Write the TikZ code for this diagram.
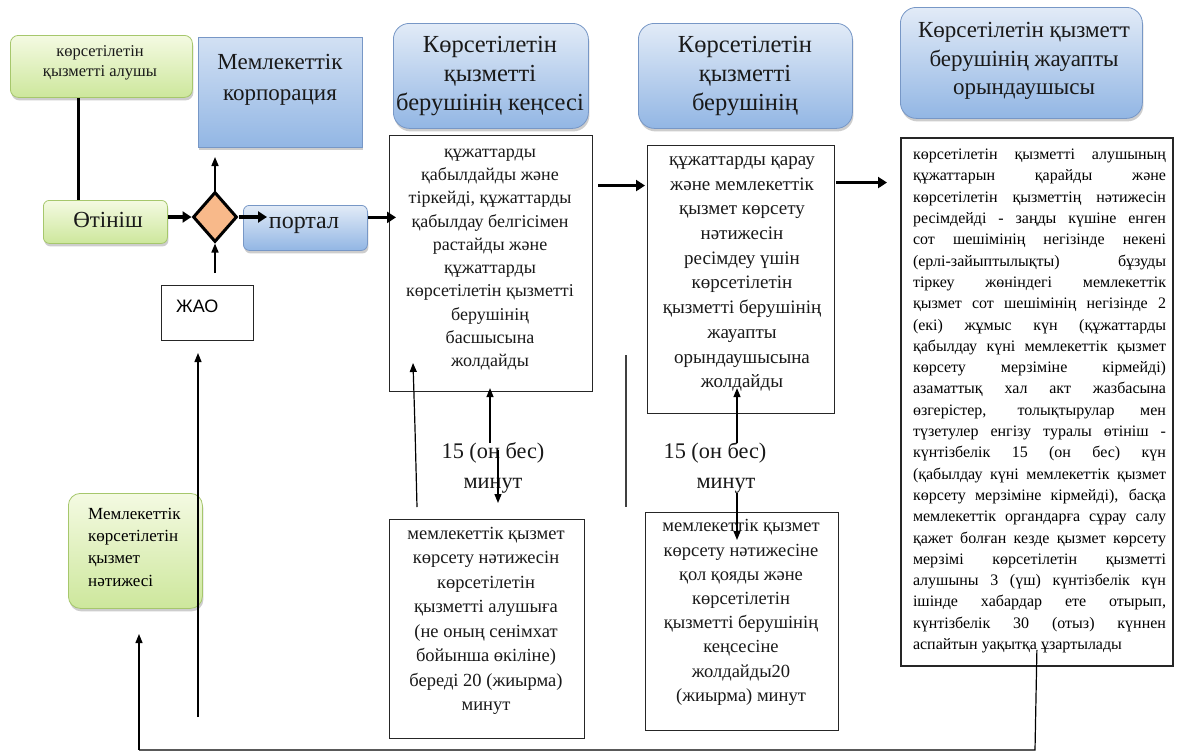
\documentclass[tikz,border=0pt]{standalone}
\usepackage{fontspec}
\setmainfont{Liberation Serif}
\newfontfamily\sansf{Liberation Sans}
\usetikzlibrary{arrows.meta,shapes.geometric,shadows}

\definecolor{grntop}{HTML}{F4FAE2}
\definecolor{grnbot}{HTML}{CDE79C}
\definecolor{grnline}{HTML}{A6C76C}
\definecolor{blutop}{HTML}{E2EBF7}
\definecolor{blubot}{HTML}{92B6E4}
\definecolor{bluline}{HTML}{7797C6}
\definecolor{peach}{HTML}{F8B98A}

% justified line of fixed width, and a ragged last line
\newlength\jw \setlength\jw{253pt}
\newcommand\jline[1]{\hbox to \jw{\spaceskip=0.25em plus 1fil\relax #1}}
\newcommand\lastline[1]{\hbox to \jw{#1\hfil}}

\tikzset{
  shade/.style={drop shadow={shadow xshift=1pt,shadow yshift=-3pt,opacity=0.28,fill=black!70}},
  greenbox/.style={draw=grnline,line width=0.8pt,rounded corners=8pt,top color=grntop,bottom color=grnbot,shade,inner sep=0pt},
  bluebox/.style={draw=bluline,line width=0.8pt,rounded corners=16pt,top color=blutop,bottom color=blubot,shade,inner sep=0pt},
  bluesq/.style={draw=bluline,line width=0.8pt,top color=blutop!80!blubot,bottom color=blubot,shade,inner sep=0pt},
  plainbox/.style={draw=black!85,line width=1.1pt,fill=white,inner sep=0pt},
  txt/.style={inner sep=0pt,align=center,text=black!90},
  thickline/.style={line width=3.5pt,black},
  thickarrow/.style={line width=3.5pt,black,-{Triangle[length=9pt,width=11pt]}},
  thinline/.style={line width=1.2pt,black},
  thinarrow/.style={line width=1.2pt,black,-{Triangle[length=9pt,width=7pt]}},
}

\begin{document}
\begin{tikzpicture}[x=1pt,y=-1pt]
\useasboundingbox[fill=white] (0,0) rectangle (1177,755);

% ---- left column ----
\node[greenbox,minimum width=182pt,minimum height=62pt,anchor=north west] (rec) at (10,35) {};
\node[txt,font=\fontsize{16.5}{20}\selectfont] (recT) at (100,63) {көрсетілетін\\қызметті алушы};
\node[greenbox,rounded corners=6pt,minimum width=124pt,minimum height=43pt,anchor=north west] (app) at (43,200) {};
\node[txt,font=\fontsize{23}{26}\selectfont] (appT) at (108,220) {Өтініш};
\node[bluesq,minimum width=164pt,minimum height=110pt,anchor=north west] (corp) at (198,37) {};
\node[txt,font=\fontsize{23}{31}\selectfont] (corpT) at (280,80) {Мемлекеттік\\корпорация};
\node[diamond,draw=black,line width=3pt,fill=peach,minimum width=44pt,minimum height=50pt,
      inner sep=0pt] (dia) at (215,217) {};
\node[bluebox,rounded corners=6pt,minimum width=124pt,minimum height=45pt,anchor=north west] (portal) at (243,205) {};
\node[txt,font=\fontsize{24}{26}\selectfont] (portalT) at (304,225) {портал};
\node[plainbox,line width=1.3pt,minimum width=92pt,minimum height=55pt,anchor=north west] (zhao) at (161,285) {};
\node[inner sep=0pt,anchor=west,font=\sansf\fontsize{18}{22}\selectfont] (zhaoT) at (176,306) {ЖАО};
\node[greenbox,rounded corners=12pt,minimum width=134pt,minimum height=115pt,anchor=north west] (res) at (68,493) {};
\node[inner sep=0pt,align=left,anchor=west,font=\fontsize{17}{22.3}\selectfont] (resT) at (88,547)
      {Мемлекеттік\\көрсетілетін\\қызмет\\нәтижесі};

% ---- column headers ----
\node[bluebox,minimum width=195pt,minimum height=105pt,anchor=north west] (h1) at (393,23) {};
\node[txt,font=\fontsize{24.5}{29}\selectfont] (h1T) at (490,76) {Көрсетілетін\\қызметті\\берушінің кеңсесі};
\node[bluebox,minimum width=214pt,minimum height=105pt,anchor=north west] (h2) at (638,23) {};
\node[txt,font=\fontsize{24.5}{29}\selectfont] (h2T) at (745,76) {Көрсетілетін\\қызметті\\берушінің};
\node[bluebox,minimum width=242pt,minimum height=111pt,anchor=north west] (h3) at (900,7) {};
\node[txt,font=\fontsize{23}{28.5}\selectfont] (h3T) at (1024,61) {Көрсетілетін қызметт\\берушінің жауапты\\орындаушысы};

% ---- process steps ----
\node[plainbox,minimum width=203pt,minimum height=256pt,anchor=north west] (b1) at (389,135) {};
\node[txt,font=\fontsize{18}{23.3}\selectfont] (b1T) at (490,259.5)
  {құжаттарды\\қабылдайды және\\тіркейді, құжаттарды\\қабылдау белгісімен\\растайды және\\құжаттарды\\көрсетілетін қызметті\\берушінің\\басшысына\\жолдайды};
\node[plainbox,minimum width=187pt,minimum height=268pt,anchor=north west] (b2) at (647,145) {};
\node[txt,font=\fontsize{19}{24.7}\selectfont] (b2T) at (742,274)
  {құжаттарды қарау\\және мемлекеттік\\қызмет көрсету\\нәтижесін\\ресімдеу үшін\\көрсетілетін\\қызметті берушінің\\жауапты\\орындаушысына\\жолдайды};
\node[plainbox,line width=1.8pt,minimum width=272pt,minimum height=528pt,anchor=north west] (b3) at (900,137) {};
\node[inner sep=0pt,font=\fontsize{16}{21.3}\selectfont] (b3T) at (1039.5,401) {\vbox{\baselineskip=21.3pt
  \jline{көрсетілетін қызметті алушының}
  \jline{құжаттарын қарайды және}
  \jline{көрсетілетін қызметтің нәтижесін}
  \jline{ресімдейді - заңды күшіне енген}
  \jline{сот шешімінің негізінде некені}
  \jline{(ерлі-зайыптылықты) бұзуды}
  \jline{тіркеу жөніндегі мемлекеттік}
  \jline{қызмет сот шешімінің негізінде 2}
  \jline{(екі) жұмыс күн (құжаттарды}
  \jline{қабылдау күні мемлекеттік қызмет}
  \jline{көрсету мерзіміне кірмейді)}
  \jline{азаматтық хал акт жазбасына}
  \jline{өзгерістер, толықтырулар мен}
  \jline{түзетулер енгізу туралы өтініш -}
  \jline{күнтізбелік 15 (он бес) күн}
  \jline{(қабылдау күні мемлекеттік қызмет}
  \jline{көрсету мерзіміне кірмейді), басқа}
  \jline{мемлекеттік органдарға сұрау салу}
  \jline{қажет болған кезде қызмет көрсету}
  \jline{мерзімі көрсетілетін қызметті}
  \jline{алушыны 3 (үш) күнтізбелік күн}
  \jline{ішінде хабардар ете отырып,}
  \jline{күнтізбелік 30 (отыз) күннен}
  \lastline{аспайтын уақытқа ұзартылады}}};

\node[plainbox,minimum width=195pt,minimum height=219pt,anchor=north west] (b4) at (389,519) {};
\node[txt,font=\fontsize{18.5}{24.5}\selectfont] (b4T) at (486,621)
  {мемлекеттік қызмет\\көрсету нәтижесін\\көрсетілетін\\қызметті алушыға\\(не оның сенімхат\\бойынша өкіліне)\\береді 20 (жиырма)\\минут};
\node[plainbox,minimum width=193pt,minimum height=218pt,anchor=north west] (b5) at (645,512) {};
\node[txt,font=\fontsize{18.5}{24.2}\selectfont] (b5T) at (741,612.5)
  {мемлекеттік қызмет\\көрсету нәтижесіне\\қол қояды және\\көрсетілетін\\қызметті берушінің\\кеңсесіне\\жолдайды20\\(жиырма) минут};

% ---- time labels ----
\node[txt,font=\fontsize{22.3}{30}\selectfont] (t1) at (493,468) {15 (он бес)\\минут};
\node[txt,font=\fontsize{22.3}{30}\selectfont] (t2) at (715,468) {15 (он бес)\\\hspace*{22pt}минут};

% ---- free ends of connectors ----
\coordinate (corpTip) at (215,157);
\coordinate (zhaoUp) at (215,273);
\coordinate (upA) at (490,443);
\coordinate (downA) at (498,450);
\coordinate (downAtip) at (498,503);
\coordinate (slantBot) at (417,507);
\coordinate (slantMid) at (415,428);
\coordinate (slantTip) at (413,363);
\coordinate (sepTop) at (626,355);
\coordinate (sepBot) at (626,507);
\coordinate (upB) at (737,443);
\coordinate (downB) at (737,493);
\coordinate (downBtip) at (737,540);
\coordinate (loopR) at (1035,750);
\coordinate (loopL) at (139,750);
\coordinate (resTip) at (139,634);
\coordinate (zhaoBot) at (198,717);
\coordinate (zhaoTip) at (198,353);

% ---- connectors ----
\draw[thickline] ([xshift=-23pt]rec.south) -- ([xshift=-23pt]rec.south |- app.north);
\draw[thickarrow] (app.east |- dia.west) -- (dia.west);
\draw[thickarrow] (dia.east) -- ([xshift=24pt]portal.west |- dia.east);
\draw[thinarrow,line width=1.6pt] (dia.north) -- (corpTip);
\draw[thinarrow,line width=1.6pt] (zhaoUp) -- (dia.south);
\draw[thickarrow] ([yshift=10.5pt]portal.east) -- ([xshift=7pt,yshift=10.5pt]portal.east -| b1.west);
\draw[thickarrow] ([xshift=5pt,yshift=78pt]b1.east) -- ([xshift=-2pt,yshift=78pt]b1.east -| b2.west);
\draw[thickarrow] ([xshift=1pt,yshift=97pt]b2.east) -- ([xshift=-13pt,yshift=97pt]b2.east -| b3.west);

\draw[thinarrow] (upA) -- ([yshift=4pt]upA |- b1.south);
\draw[thinarrow] (downA) -- (downAtip);
\draw[thinarrow] (slantBot) -- (slantMid) -- (slantTip);
\draw[thinline,black!75] (sepTop) -- (sepBot);
\draw[thinarrow] (upB) -- ([yshift=26pt]upB |- b2.south);
\draw[thinarrow] (downB) -- (downBtip);

\draw[thinline] ([yshift=17pt]b3.south) -- (loopR) -- (loopL);
\draw[thinarrow] (loopL) -- (resTip);
\draw[thinarrow] (zhaoBot) -- (zhaoTip);
\end{tikzpicture}
\end{document}
